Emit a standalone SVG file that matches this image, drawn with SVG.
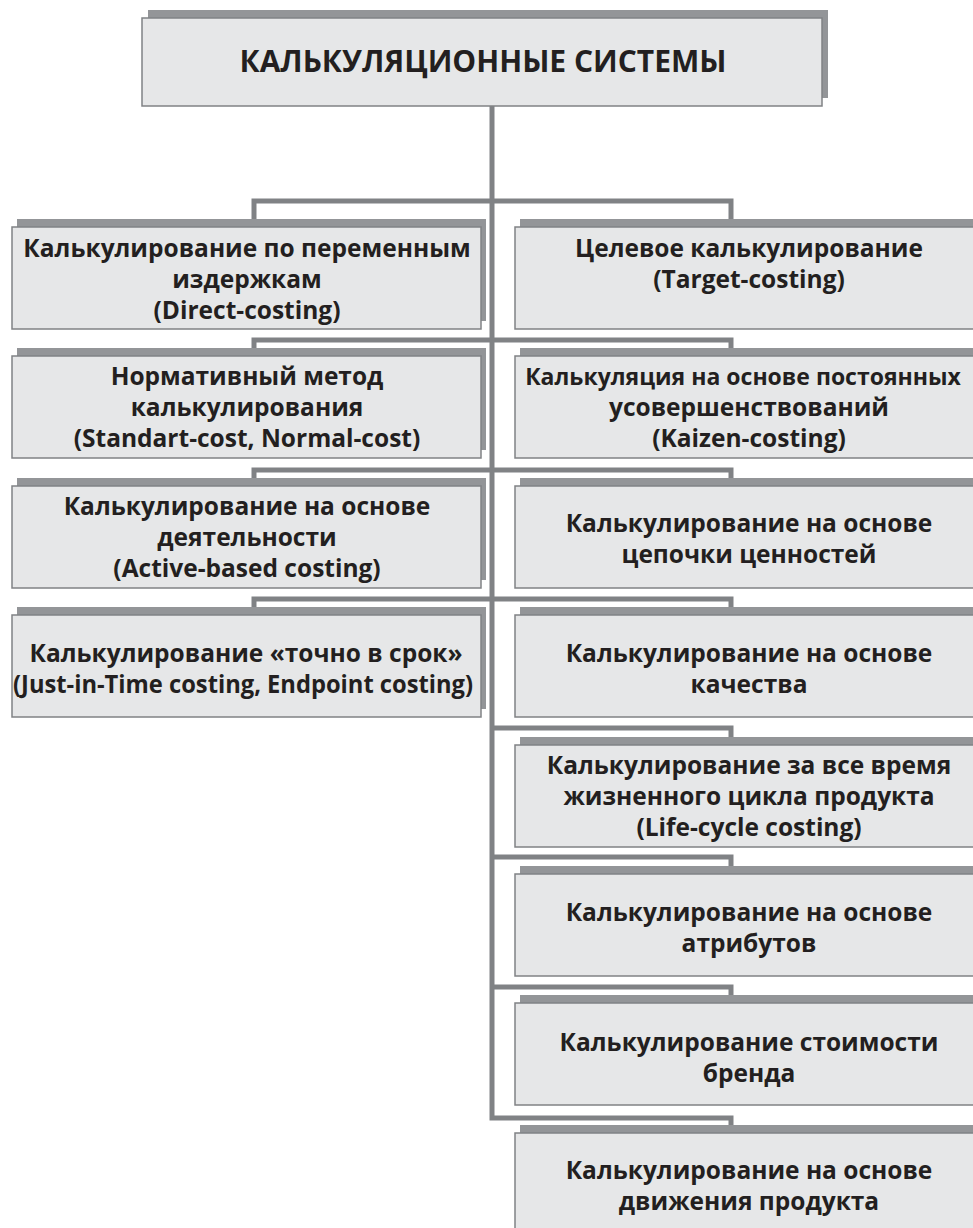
<svg xmlns="http://www.w3.org/2000/svg" width="973" height="1228" viewBox="0 0 973 1228">
<style>
.sh{fill:#939598}
.bx{fill:#e6e7e8;stroke:#808285;stroke-width:1.5}
.t{font-family:"Open Sans","Noto Sans",sans-serif;font-weight:700;font-size:24.5px;fill:#231f20;text-anchor:middle}
.h{font-size:30px}
.c{fill:none;stroke:#808285;stroke-width:5}
</style>
<rect width="973" height="1228" fill="#ffffff"/>
<g id="connectors">
<path class="c" d="M492,106 V1118 H731 V1126"/>
<path class="c" d="M254,220 V201 H731 V220"/>
<path class="c" d="M254,349 V340 H731 V349"/>
<path class="c" d="M254,479 V470 H731 V479"/>
<path class="c" d="M254,608 V599 H731 V608"/>
<path class="c" d="M492,728 H731 V738"/>
<path class="c" d="M492,857 H731 V867"/>
<path class="c" d="M492,987 H731 V996"/>
</g>
<g id="root">
<rect class="sh" x="148" y="10" width="680" height="88"/>
<rect class="bx" x="142" y="18" width="680" height="88"/>
<text class="t h" x="483" y="72">КАЛЬКУЛЯЦИОННЫЕ СИСТЕМЫ</text>
</g>
<g id="L1">
<rect class="sh" x="17" y="219" width="469" height="102"/>
<rect class="bx" x="12" y="227" width="469" height="102"/>
<text class="t" x="247" y="257">Калькулирование по переменным</text>
<text class="t" x="247" y="288">издержкам</text>
<text class="t" x="247" y="319">(Direct-costing)</text>
</g>
<g id="L2">
<rect class="sh" x="17" y="348" width="469" height="102"/>
<rect class="bx" x="12" y="356" width="469" height="102"/>
<text class="t" x="247" y="385">Нормативный метод</text>
<text class="t" x="247" y="416">калькулирования</text>
<text class="t" x="247" y="447">(Standart-cost, Normal-cost)</text>
</g>
<g id="L3">
<rect class="sh" x="17" y="478" width="469" height="102"/>
<rect class="bx" x="12" y="486" width="469" height="102"/>
<text class="t" x="247" y="515">Калькулирование на основе</text>
<text class="t" x="247" y="546">деятельности</text>
<text class="t" x="247" y="577">(Active-based costing)</text>
</g>
<g id="L4">
<rect class="sh" x="17" y="607" width="469" height="102"/>
<rect class="bx" x="12" y="615" width="469" height="102"/>
<text class="t" x="246" y="662">Калькулирование «точно в срок»</text>
<text class="t" x="243" y="693" textLength="460" lengthAdjust="spacingAndGlyphs">(Just-in-Time costing, Endpoint costing)</text>
</g>
<g id="R1">
<rect class="sh" x="520" y="219" width="470" height="102"/>
<rect class="bx" x="515" y="227" width="470" height="102"/>
<text class="t" x="749" y="257">Целевое калькулирование</text>
<text class="t" x="749" y="288">(Target-costing)</text>
</g>
<g id="R2">
<rect class="sh" x="520" y="348" width="470" height="102"/>
<rect class="bx" x="515" y="356" width="470" height="102"/>
<text class="t" x="743" y="385" style="font-size:23px">Калькуляция на основе постоянных</text>
<text class="t" x="749" y="416">усовершенствований</text>
<text class="t" x="749" y="447">(Kaizen-costing)</text>
</g>
<g id="R3">
<rect class="sh" x="520" y="478" width="470" height="102"/>
<rect class="bx" x="515" y="486" width="470" height="102"/>
<text class="t" x="749" y="532">Калькулирование на основе</text>
<text class="t" x="749" y="563">цепочки ценностей</text>
</g>
<g id="R4">
<rect class="sh" x="520" y="607" width="470" height="102"/>
<rect class="bx" x="515" y="615" width="470" height="102"/>
<text class="t" x="749" y="662">Калькулирование на основе</text>
<text class="t" x="749" y="693">качества</text>
</g>
<g id="R5">
<rect class="sh" x="520" y="737" width="470" height="102"/>
<rect class="bx" x="515" y="745" width="470" height="102"/>
<text class="t" x="749" y="774">Калькулирование за все время</text>
<text class="t" x="749" y="805">жизненного цикла продукта</text>
<text class="t" x="749" y="836">(Life-cycle costing)</text>
</g>
<g id="R6">
<rect class="sh" x="520" y="866" width="470" height="102"/>
<rect class="bx" x="515" y="874" width="470" height="102"/>
<text class="t" x="749" y="921">Калькулирование на основе</text>
<text class="t" x="749" y="952">атрибутов</text>
</g>
<g id="R7">
<rect class="sh" x="520" y="995" width="470" height="102"/>
<rect class="bx" x="515" y="1003" width="470" height="102"/>
<text class="t" x="749" y="1051">Калькулирование стоимости</text>
<text class="t" x="749" y="1082">бренда</text>
</g>
<g id="R8">
<rect class="sh" x="520" y="1125" width="470" height="102"/>
<rect class="bx" x="515" y="1133" width="470" height="102"/>
<text class="t" x="749" y="1179">Калькулирование на основе</text>
<text class="t" x="749" y="1210">движения продукта</text>
</g>
</svg>
